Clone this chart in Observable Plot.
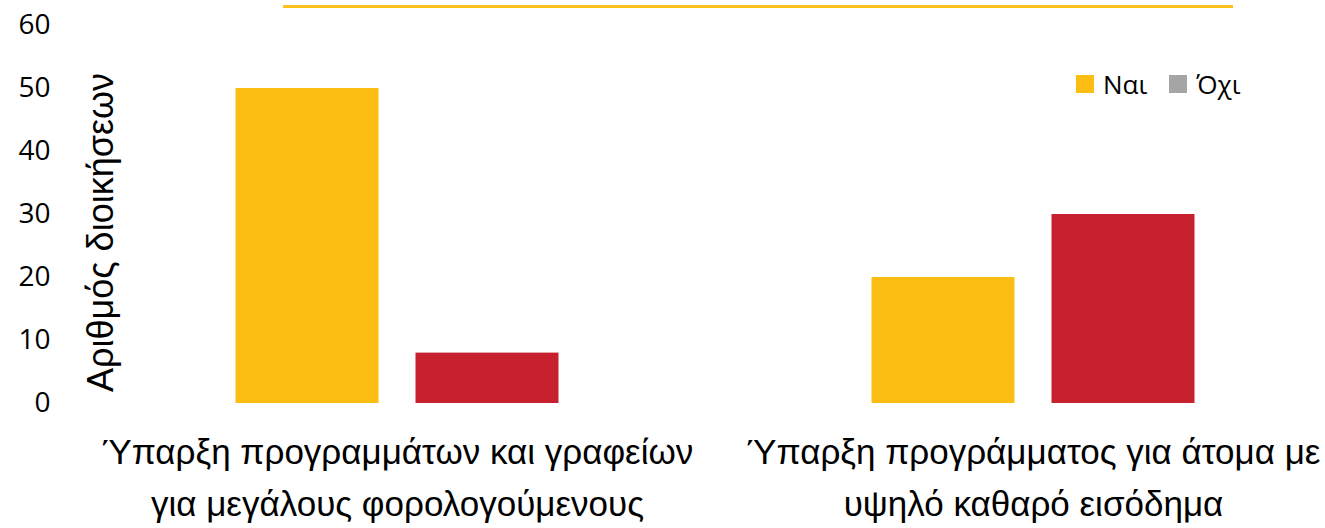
<!DOCTYPE html>
<html><head><meta charset="utf-8">
<script src="https://cdn.jsdelivr.net/npm/d3@7"></script>
<script src="https://cdn.jsdelivr.net/npm/@observablehq/plot@0.6"></script>
<style>
body{margin:0;background:#fff}
#wrap{position:relative;width:1325px;height:528px;overflow:hidden}
#topline{position:absolute;left:283px;top:5px;width:950px;height:3px;background:#FEC01A}
#legend{position:absolute;left:1076px;top:66px;display:flex;align-items:center;font-family:"Open Sans",sans-serif;font-size:26px;color:#000}
#legend .item{display:flex;align-items:center;margin-right:22px}
#legend .sw{width:18px;height:18px;margin-right:9px}
</style></head><body>
<div id="wrap"><div id="topline"></div><div id="legend"></div></div>
<script>
const groups = ["Ύπαρξη προγραμμάτων και γραφείων για μεγάλους φορολογούμενους", "Ύπαρξη προγράμματος για άτομα με υψηλό καθαρό εισόδημα"];
const groupTickLabels = ["Ύπαρξη προγραμμάτων και γραφείων\nγια μεγάλους φορολογούμενους", "Ύπαρξη προγράμματος για άτομα με\nυψηλό καθαρό εισόδημα"];
const series = ["Ναι", "Όχι"];
const naiValues = [50, 20];
const oxiValues = [8, 30];
const barColors = ["#FDBE14", "#C7202F"];
const legendColors = ["#FDBE14", "#A5A5A5"];
const yTicks = [0, 10, 20, 30, 40, 50, 60];
const yLabel = "Αριθμός διοικήσεων";

const rows = [];
groups.forEach((g, i) => {
  rows.push({group: g, series: series[0], value: naiValues[i]});
  rows.push({group: g, series: series[1], value: oxiValues[i]});
});

const chart = Plot.plot({
  width: 1325, height: 528,
  marginLeft: 78.5, marginRight: -25.5, marginTop: 25, marginBottom: 125,
  style: {background: "transparent"},
  fx: {domain: groups, padding: 0},
  x: {domain: series, paddingInner: 0.2056, paddingOuter: 0.869, axis: null},
  y: {domain: [0, 60]},
  color: {domain: series, range: barColors},
  marks: [
    Plot.barY(rows, {fx: "group", x: "series", y: "value", fill: "series"}),
    Plot.axisY({ticks: yTicks, tickSize: 0, tickPadding: 29, fontSize: 28, fontFamily: "Open Sans", fill: "#000", label: null}),
    Plot.axisFx({anchor: "bottom", tickSize: 0, tickPadding: 24, fontSize: 35, lineHeight: 1.48, fontFamily: "Liberation Sans", fill: "#000",
      tickFormat: d => groupTickLabels[groups.indexOf(d)], label: null}),
    Plot.text([yLabel], {text: d => d, frameAnchor: "left", textAnchor: "middle", rotate: -90, dx: 22, dy: 18, fontSize: 36, fontFamily: "Liberation Sans", fill: "#000", facetAnchor: "left"})
  ]
});
document.getElementById("wrap").appendChild(chart);
chart.style.position = "absolute"; chart.style.left = "0"; chart.style.top = "0";

const legend = document.getElementById("legend");
series.forEach((s, i) => {
  const it = document.createElement("div"); it.className = "item";
  const sw = document.createElement("div"); sw.className = "sw"; sw.style.background = legendColors[i];
  const tx = document.createElement("span"); tx.textContent = s;
  it.appendChild(sw); it.appendChild(tx); legend.appendChild(it);
});
</script>
</body></html>
